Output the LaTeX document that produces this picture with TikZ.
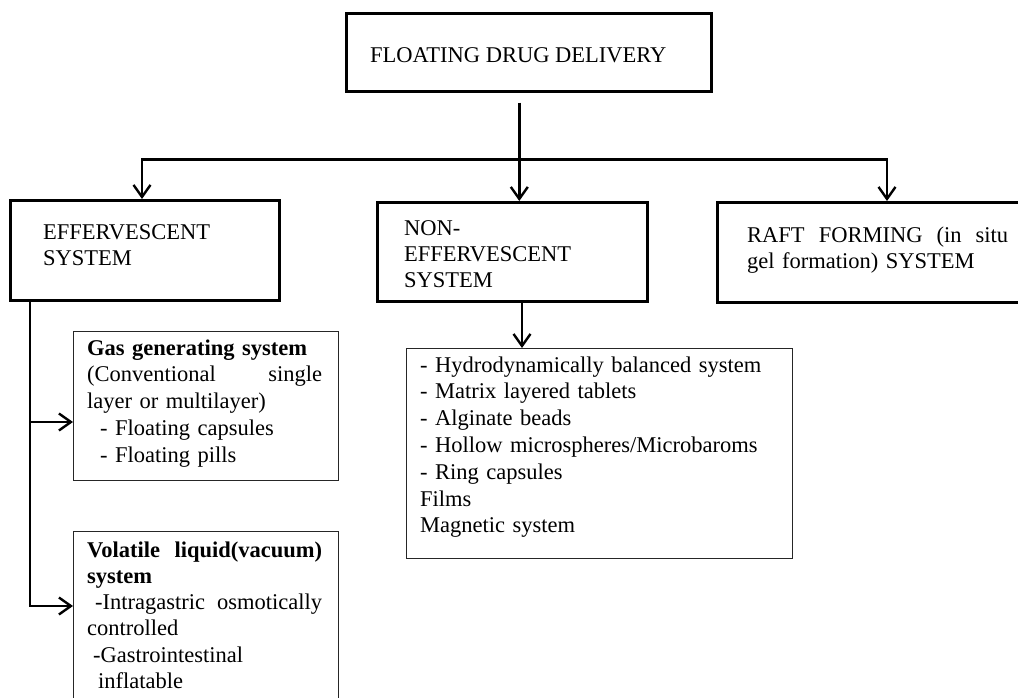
\documentclass[tikz,border=0pt]{standalone}
\usepackage{fontspec}
\setmainfont{Liberation Serif}
\usetikzlibrary{arrows.meta,calc}
\newcommand\jfill{\hskip 0pt plus 1filll\relax}
\begin{document}
\begin{tikzpicture}[x=1pt,y=-1pt,
  mainbox/.style={draw, line width=2.6pt, rectangle, inner sep=0pt, anchor=north west},
  subbox/.style={draw=black!85, line width=1.3pt, rectangle, inner sep=0pt, anchor=north west},
  txt/.style={inner sep=0pt, anchor=base west, align=left, font=\fontsize{22.5}{26.3}\selectfont},
  ltxt/.style={txt, font=\fontsize{22.5}{26.8}\selectfont},
  conn/.style={line width=2.6pt},
  arr/.style={conn, -{Straight Barb[length=12pt,width=17pt,line width=2.4pt]}}]
\useasboundingbox (0,0) rectangle (1018,698);
\fill[white] (0,0) rectangle (1018,698);
% boxes
\node[mainbox, minimum width=365pt, minimum height=78pt] (top) at (345,12) {};
\node[mainbox, minimum width=269pt, minimum height=100pt] (eff) at (9,199) {};
\node[mainbox, minimum width=270pt, minimum height=99pt] (non) at (376,201) {};
\node[mainbox, minimum width=330pt, minimum height=100pt] (raft) at (716,201) {};
\node[subbox, minimum width=265pt, minimum height=149pt] (gas) at (73,331) {};
\node[subbox, minimum width=265pt, minimum height=190pt] (vol) at (73,531) {};
\node[subbox, minimum width=386pt, minimum height=210pt] (list) at (406,348) {};
% texts
\node[txt] (ttop) at (370,63) {FLOATING DRUG DELIVERY};
\node[txt, text width=230pt] (teff) at (43,239) {EFFERVESCENT\\SYSTEM};
\node[txt, text width=230pt] (tnon) at (404,235) {NON-\\EFFERVESCENT\\SYSTEM};
\node[txt, text width=261pt] (traft) at (747,242) {RAFT\jfill FORMING\jfill (in\jfill situ\\gel formation) SYSTEM};
\node[ltxt, text width=235pt] (tgas) at (87,355) {\textbf{Gas generating system}\\(Conventional\jfill single\\layer or multilayer)\\\hspace*{13pt}- Floating capsules\\\hspace*{13pt}- Floating pills};
\node[txt, text width=235pt] (tvol) at (87,557) {\textbf{Volatile\jfill liquid(vacuum)}\\\textbf{system}\\\hspace*{8pt}-Intragastric\jfill osmotically\\controlled\\\hspace*{6pt}-Gastrointestinal\\\hspace*{11pt}inflatable};
\node[ltxt, text width=370pt] (tlist) at (420,372) {- Hydrodynamically balanced system\\- Matrix layered tablets\\- Alginate beads\\- Hollow microspheres/Microbaroms\\- Ring capsules\\Films\\Magnetic system};
% connectors
\coordinate (topout) at ($(top.south)+(-9.5,10)$);
\coordinate (busM) at ($(topout)+(0,57)$);
\coordinate (effin) at ($(eff.north west)+(133,0)$);
\coordinate (raftin) at ($(raft.north west)+(171,0)$);
\draw[conn] (topout) -- (busM);
\draw[arr] (busM) -| (effin);
\draw[arr] (busM) -| (raftin);
\draw[arr] (busM) -- (busM |- non.north);
\coordinate (nonout) at ($(non.south west)+(146,0)$);
\draw[arr] (nonout) -- (nonout |- list.north);
\coordinate (effout) at ($(eff.south west)+(21,0)$);
\coordinate (gasin) at ($(gas.north west)+(0,91)$);
\coordinate (volin) at ($(vol.north west)+(0,75)$);
\draw[arr] (effout) |- (volin);
\draw[arr] (effout |- gasin) -- (gasin);
\end{tikzpicture}
\end{document}
